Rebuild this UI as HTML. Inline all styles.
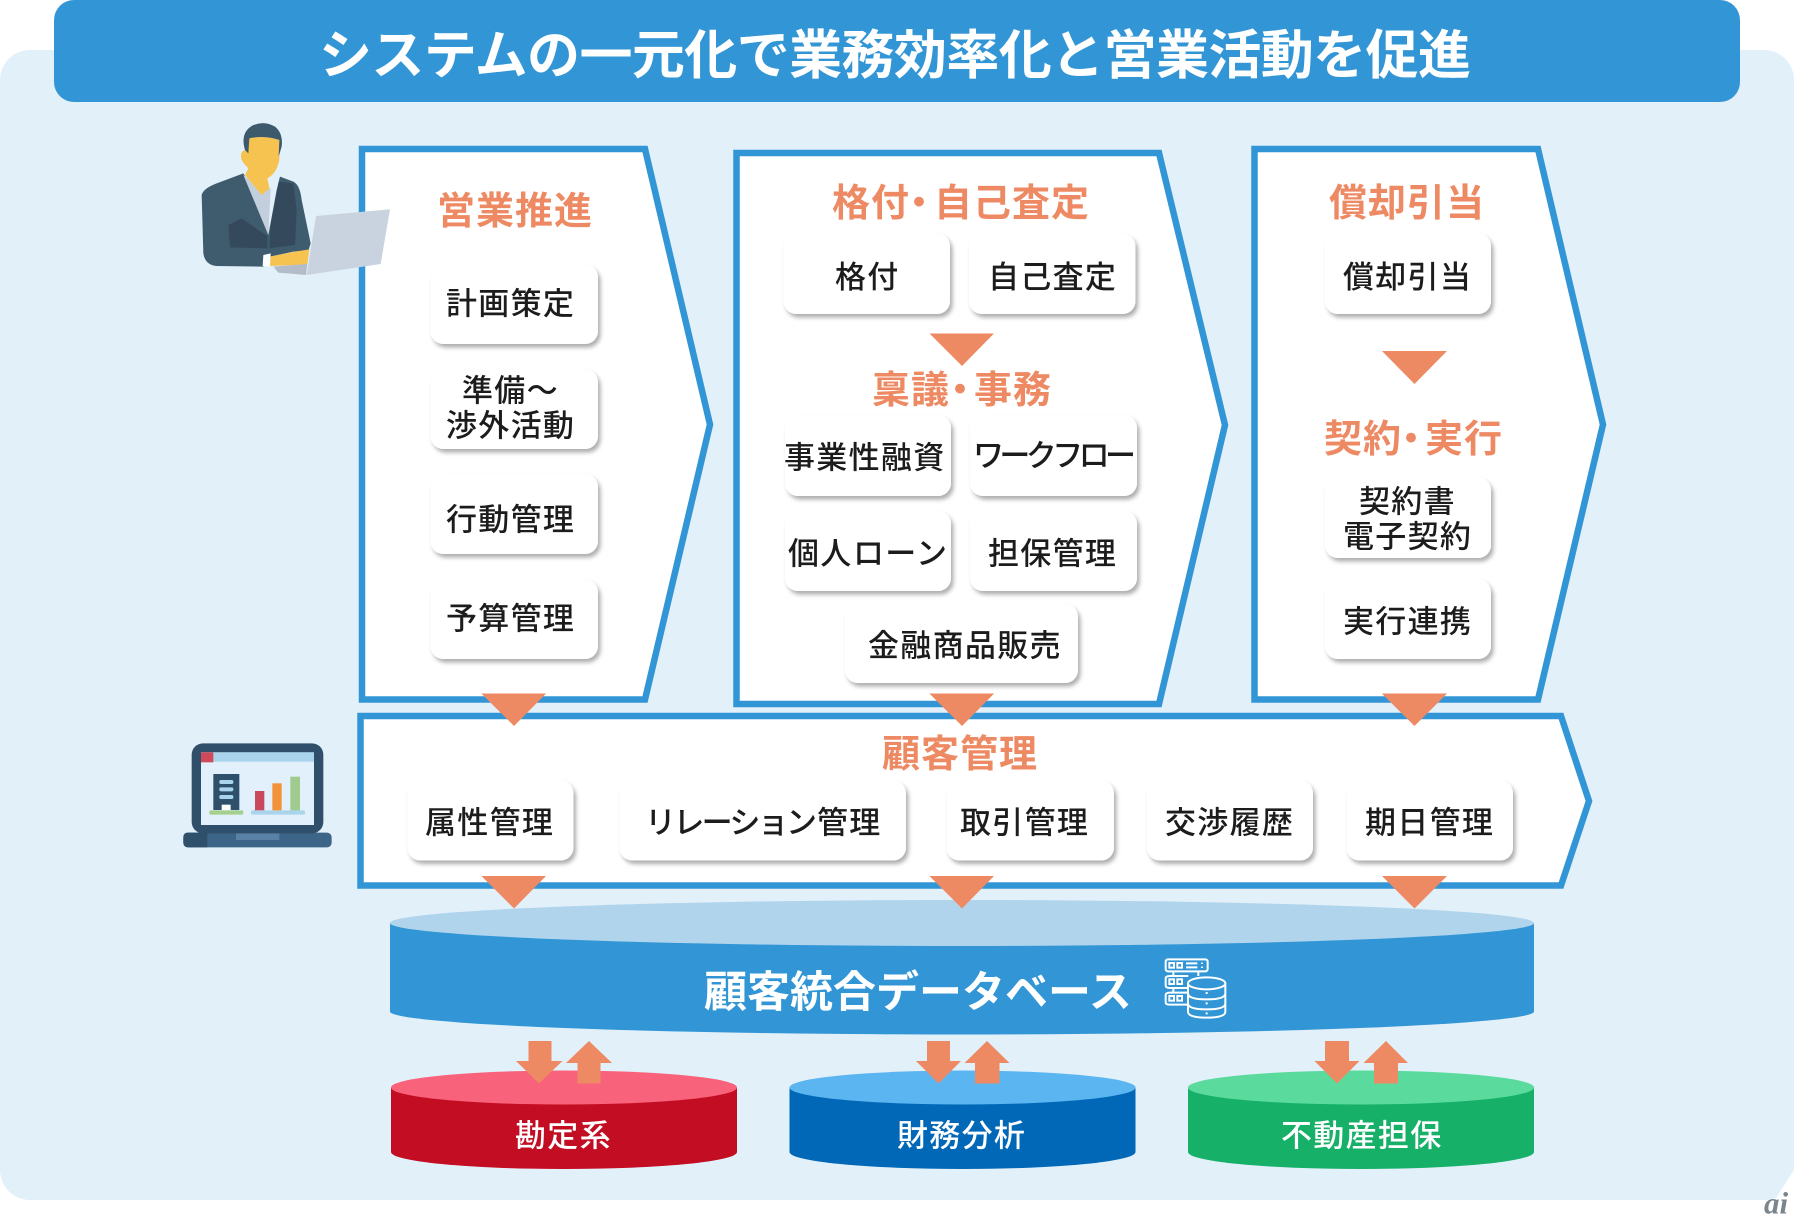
<!DOCTYPE html>
<html lang="ja"><head><meta charset="utf-8"><title>システムの一元化で業務効率化と営業活動を促進</title>
<style>
html,body{margin:0;padding:0;background:#fff;width:1794px;height:1223px;overflow:hidden}
svg{display:block}
text{font-family:"Liberation Sans","Noto Sans CJK JP",sans-serif;dominant-baseline:central;transform:translateY(2px)}
.h{font-size:38px;font-weight:700;fill:#ee8a63;letter-spacing:1px}
.t{font-size:31px;font-weight:500;fill:#1c1c1c;letter-spacing:1.3px}
.w{font-size:31px;font-weight:500;fill:#fff;letter-spacing:1.3px}
.c{fill:#fff;filter:url(#s)}
.b{fill:#fff;stroke:#3296d6;stroke-width:6.5}
.a{fill:#ee8a63}
</style></head><body>
<svg xmlns="http://www.w3.org/2000/svg" width="1794" height="1223" viewBox="0 0 1794 1223">
<defs><filter id="s" x="-20%" y="-20%" width="140%" height="140%"><feDropShadow dx="2.5" dy="3.5" stdDeviation="2.2" flood-color="#000" flood-opacity=".32"/></filter></defs>
<rect width="1794" height="1223" fill="#fff"/>
<rect x="0" y="50" width="1794" height="1150" rx="30" fill="#e2f0fa"/>
<rect x="54" y="0" width="1686" height="102" rx="20" fill="#3296d6"/>
<text x="319" y="54" textLength="1152" style="font-size:53px;font-weight:700;fill:#fff">システムの一元化で業務効率化と営業活動を促進</text>

<!-- box 1 -->
<path class="b" d="M362 149H645L710 424.5 645 699.5H362Z"/>
<rect class="c" x="430.5" y="264.5" width="167.5" height="79.5" rx="13"/>
<rect class="c" x="430.5" y="369.5" width="167.5" height="79.5" rx="13"/>
<rect class="c" x="430.5" y="474" width="167.5" height="80" rx="13"/>
<rect class="c" x="430.5" y="579.5" width="167.5" height="79.5" rx="13"/>
<text class="h" x="437" y="210">営業推進</text>
<text class="t" x="446" y="302">計画策定</text>
<text class="t" x="462" y="389">準備～</text>
<text class="t" x="446" y="424">渉外活動</text>
<text class="t" x="446" y="518">行動管理</text>
<text class="t" x="446" y="617">予算管理</text>
<path class="a" d="M481.5 693.5H546L514 726Z"/>

<!-- person -->
<g transform="translate(180,110) scale(.33333)">
<path d="M65 255Q70 235 110 220L190 190 205 215 265 375 290 240 300 200 340 215Q360 225 365 270L392 400 385 422 340 425 270 440 250 470 110 468Q75 465 70 430Z" fill="#3f5b6e"/>
<path d="M145 345L185 325 262 378 262 415 150 412Z M296 215L340 220 350 300 345 405 268 415 272 345Z" fill="#35495d"/>
<path d="M190 195L245 240 272 235 265 375Z" fill="#c3cfdc"/>
<path d="M205 85Q255 75 298 90L298 150Q290 190 262 205L268 235 245 255 195 195 205 175Q190 160 185 150 178 125 195 120Z" fill="#f6c350"/>
<path d="M195 120Q180 70 215 48 250 30 285 50 310 70 305 110L296 140 298 90Q255 75 208 85L205 130Z" fill="#3d5a6c"/>
<path d="M270 440L345 425 388 418 382 464 270 468Z" fill="#f6c350"/>
<path d="M250 435L272 430 270 470 248 468Z" fill="#fff"/>
<path d="M280 470L382 462 378 495 295 488Z" fill="#b3bcc8"/>
<path d="M408 318L630 298 602 462 380 495Z" fill="#c9d3e0"/>
</g>

<!-- box 2 -->
<path class="b" d="M736.5 153H1159L1225 425 1159 704H736.5Z"/>
<text class="h" y="202"><tspan x="832">格付</tspan><tspan x="900">・</tspan><tspan x="934">自己査定</tspan></text>
<rect class="c" x="783.5" y="233.5" width="166.5" height="80.5" rx="13"/>
<rect class="c" x="969" y="233.5" width="166.5" height="80.5" rx="13"/>
<text class="t" x="835" y="275.5">格付</text>
<text class="t" x="988" y="275.5">自己査定</text>
<path class="a" d="M929.5 333.5H994L962 366Z"/>
<text class="h" y="389"><tspan x="872">稟議</tspan><tspan x="941">・</tspan><tspan x="974">事務</tspan></text>
<rect class="c" x="785" y="415" width="166" height="81" rx="13"/>
<rect class="c" x="970" y="415" width="167" height="81" rx="13"/>
<rect class="c" x="785" y="511" width="166" height="80" rx="13"/>
<rect class="c" x="970" y="511" width="167" height="80" rx="13"/>
<rect class="c" x="845" y="604" width="233" height="79" rx="13"/>
<text class="t" x="784" y="456">事業性融資</text>
<text class="t" x="973" y="454" textLength="163" style="letter-spacing:0">ワークフロー</text>
<text class="t" x="788" y="552">個人</text>
<text class="t" x="853" y="552" textLength="94" style="letter-spacing:0">ローン</text>
<text class="t" x="988" y="552">担保管理</text>
<text class="t" x="868" y="644">金融商品販売</text>
<path class="a" d="M929.5 693.5H994L962 726Z"/>

<!-- box 3 -->
<path class="b" d="M1254.5 149H1538L1603 424.5 1538 699.5H1254.5Z"/>
<text class="h" x="1329" y="202">償却引当</text>
<rect class="c" x="1325" y="233.5" width="166" height="80.5" rx="13"/>
<text class="t" x="1343" y="275.5">償却引当</text>
<path class="a" d="M1382 351H1447L1414.5 384Z"/>
<text class="h" y="438"><tspan x="1324">契約</tspan><tspan x="1392">・</tspan><tspan x="1425">実行</tspan></text>
<rect class="c" x="1325" y="477.5" width="166" height="80.5" rx="13"/>
<rect class="c" x="1325" y="579.5" width="166" height="79.5" rx="13"/>
<text class="t" x="1359" y="500">契約書</text>
<text class="t" x="1343" y="535">電子契約</text>
<text class="t" x="1343" y="620">実行連携</text>
<path class="a" d="M1382 693.5H1447L1414.5 726Z"/>

<!-- laptop icon -->
<g transform="translate(170,730) scale(.33333)">
<rect x="40" y="308" width="445" height="44" rx="14" fill="#3d6588"/>
<path d="M54 308H112V352H54Q40 352 40 338V322Q40 308 54 308Z" fill="#2f506b"/>
<rect x="198" y="308" width="130" height="22" fill="#5a81a6"/>
<rect x="65" y="40" width="395" height="270" rx="34" fill="#2f4f6a"/>
<rect x="93" y="67" width="339" height="218" fill="#e2f0fb"/>
<rect x="93" y="67" width="339" height="28" fill="#a9d4ec"/>
<rect x="93" y="67" width="37" height="30" fill="#d0495a"/>
<rect x="130" y="132" width="78" height="108" fill="#2f506b"/>
<rect x="148" y="150" width="42" height="12" rx="5" fill="#a9d4ec"/>
<rect x="148" y="172" width="42" height="12" rx="5" fill="#a9d4ec"/>
<rect x="148" y="195" width="42" height="12" rx="5" fill="#a9d4ec"/>
<rect x="155" y="224" width="27" height="17" fill="#fff"/>
<rect x="118" y="241" width="102" height="13" rx="5" fill="#a5cf8e"/>
<rect x="243" y="241" width="162" height="13" rx="5" fill="#a9d4ec"/>
<rect x="255" y="183" width="28" height="58" fill="#c9485b"/>
<rect x="307" y="160" width="28" height="81" fill="#f2933a"/>
<rect x="361" y="140" width="29" height="101" fill="#9fcb8f"/>
</g>

<!-- customer mgmt -->
<path class="b" d="M360.5 716H1561L1589 801 1561 885.5H360.5Z"/>
<text class="h" x="882" y="753">顧客管理</text>
<rect class="c" x="407.5" y="780.5" width="166" height="80" rx="13"/>
<rect class="c" x="619.5" y="780.5" width="286.5" height="80" rx="13"/>
<rect class="c" x="946.5" y="780.5" width="167.5" height="80" rx="13"/>
<rect class="c" x="1147" y="780.5" width="166" height="80" rx="13"/>
<rect class="c" x="1346.5" y="780.5" width="166.5" height="80" rx="13"/>
<text class="t" x="425" y="821">属性管理</text>
<text class="t" x="645" y="821" textLength="172" style="letter-spacing:0">リレーション</text>
<text class="t" x="817" y="821">管理</text>
<text class="t" x="960" y="821">取引管理</text>
<text class="t" x="1165" y="821">交渉履歴</text>
<text class="t" x="1365" y="821">期日管理</text>
<path class="a" d="M481.5 693.5H546L514 726Z"/>
<path class="a" d="M929.5 693.5H994L962 726Z"/>
<path class="a" d="M1382 693.5H1447L1414.5 726Z"/>

<!-- big DB -->
<ellipse cx="962" cy="1011.5" rx="572" ry="23" fill="#3296d6"/>
<rect x="390" y="923" width="1144" height="88.5" fill="#3296d6"/>
<ellipse cx="962" cy="923" rx="572" ry="23" fill="#b0d4ec"/>
<path class="a" d="M481.5 876H546L514 908.5Z"/>
<path class="a" d="M929.5 876H994L962 908.5Z"/>
<path class="a" d="M1382 876H1447L1414.5 908.5Z"/>
<text x="704" y="991" style="font-size:43px;font-weight:700;fill:#fff;letter-spacing:0">顧客統合データベース</text>
<g transform="translate(1140,940) scale(.33333)" fill="none" stroke="#fff" stroke-width="6">
<rect x="77" y="58" width="126" height="36" rx="7"/>
<path d="M145 108H90Q77 108 77 115V137Q77 144 90 144H142M145 158H90Q77 158 77 165V187Q77 194 90 194H145M100 94V108M175 94V108M100 144V158"/>
<rect x="88" y="69" width="14" height="14"/><rect x="112" y="69" width="14" height="14"/>
<rect x="88" y="118" width="14" height="14"/><rect x="112" y="118" width="14" height="14"/>
<rect x="88" y="168" width="14" height="14"/><rect x="112" y="168" width="14" height="14"/>
<path d="M138 70H172M138 82H172M186 68V72M186 80V84"/>
<ellipse cx="200" cy="130" rx="56" ry="18" fill="#3296d6"/>
<path d="M144 130V215Q144 233 200 233 256 233 256 215V130M144 160Q144 178 200 178 256 178 256 160M144 190Q144 208 200 208 256 208 256 190"/>
<path d="M200 156V162M200 187V193M200 217V223"/>
</g>

<!-- small DBs -->
<g>
<ellipse cx="564" cy="1152" rx="173" ry="17" fill="#c30d23"/>
<rect x="391" y="1087.5" width="346" height="64.5" fill="#c30d23"/>
<ellipse cx="564" cy="1087.5" rx="173" ry="17" fill="#f9627b"/>
<ellipse cx="962.5" cy="1152" rx="173" ry="17" fill="#0068b7"/>
<rect x="789.5" y="1087.5" width="346" height="64.5" fill="#0068b7"/>
<ellipse cx="962.5" cy="1087.5" rx="173" ry="17" fill="#5bb5f0"/>
<ellipse cx="1361" cy="1152" rx="173" ry="17" fill="#16b068"/>
<rect x="1188" y="1087.5" width="346" height="64.5" fill="#16b068"/>
<ellipse cx="1361" cy="1087.5" rx="173" ry="17" fill="#5adb9d"/>
</g>
<text class="w" x="515" y="1134">勘定系</text>
<text class="w" x="897" y="1134">財務分析</text>
<text class="w" x="1281" y="1134">不動産担保</text>
<path class="a" d="M528.5 1041H551.5V1061H562.5L539 1083.5 516 1061H528.5Z"/>
<path class="a" d="M589 1041L612 1063H600.5V1083.5H577.5V1063H566Z"/>
<path class="a" d="M927 1041H950V1061H961L938.5 1083.5 916 1061H927Z"/>
<path class="a" d="M987 1041L1009.5 1063H999.5V1083.5H975V1063H964.5Z"/>
<path class="a" d="M1325 1041H1349V1061H1359.5L1337 1083.5 1314.5 1061H1325Z"/>
<path class="a" d="M1386 1041L1408 1063H1398V1083.5H1374V1063H1363.5Z"/>

<!-- logo -->
<path d="M1794 1170L1760 1223H1794Z" fill="#fff"/>
<text x="1764" y="1201" style="font-size:31px;font-family:'Liberation Serif',serif;font-style:italic;font-weight:700;fill:#7b858d">ai</text>
</svg>
</body></html>
